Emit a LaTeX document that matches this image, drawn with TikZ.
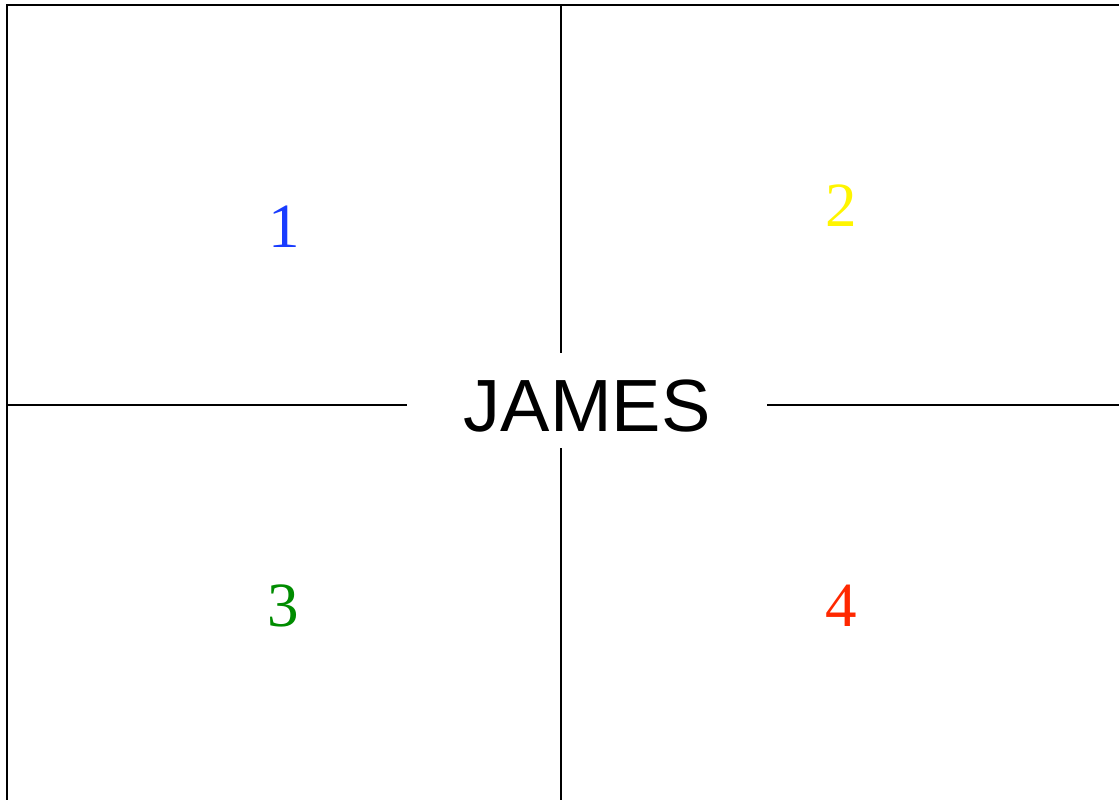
\documentclass[tikz,border=0pt]{standalone}
\usepackage{fontspec}
\setmainfont{Liberation Serif}
\newfontfamily\labelsans{Liberation Sans}
\definecolor{qblue}{RGB}{25,60,255}
\definecolor{qyellow}{RGB}{255,245,0}
\definecolor{qgreen}{RGB}{0,140,0}
\definecolor{qred}{RGB}{255,40,0}
\tikzset{
  gridline/.style={line width=2pt, black},
  num/.style={inner sep=0pt, text depth=0pt, text height=43pt, font=\fontsize{63}{70}\selectfont},
  title/.style={inner sep=0pt, minimum width=360pt, minimum height=95pt, text depth=0pt, text height=53.5pt, font=\labelsans\fontsize{74}{80}\selectfont}
}
\begin{document}
\begin{tikzpicture}[x=1pt,y=-1pt]
\useasboundingbox (0,0) rectangle (1119,800);
\clip (0,0) rectangle (1119,800);
\node[title] (james) at (587,405) {JAMES};
\node[num, text=qblue] (n1) at (284,225.5) {1};
\node[num, text=qyellow] (n2) at (841,205) {2};
\node[num, text=qgreen] (n3) at (283,604.5) {3};
\node[num, text=qred] (n4) at (841,604.5) {4};
\coordinate (tl) at (7,5);
\coordinate (tr) at (1125,5);
\coordinate (bl) at (7,806);
\coordinate (vt) at (561,5);
\coordinate (vb) at (561,806);
\coordinate (hl) at (7,405);
\coordinate (hr) at (1125,405);
\draw[gridline] (tr) -- (tl) -- (bl);
\draw[gridline] (vt) -- ([yshift=4.5pt]vt |- james.north);
\draw[gridline] ([yshift=4.5pt]james.south -| vb) -- (vb);
\draw[gridline] (hl) -- (james.west);
\draw[gridline] (james.east) -- (hr);
\end{tikzpicture}
\end{document}
